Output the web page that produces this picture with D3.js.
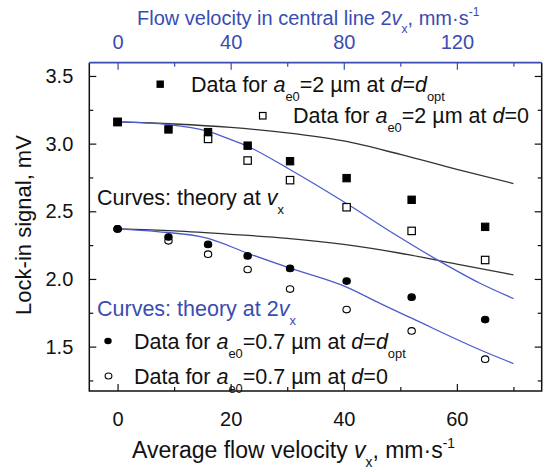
<!DOCTYPE html>
<html>
<head>
<meta charset="utf-8">
<script src="https://cdn.jsdelivr.net/npm/d3@7"></script>
<style>
  body { margin: 0; background: #fff; }
  svg text { font-family: "Liberation Sans", Arial, sans-serif; }
</style>
</head>
<body>
<div id="vis"></div>
<script>
// measured data (x = average flow velocity, mm/s ; y = lock-in signal, mV)
const sqFilled = [[0, 3.16], [9, 3.105], [16, 3.085], [23, 2.985], [30.5, 2.87], [40.5, 2.745], [52, 2.585], [65, 2.385]];
const sqOpen = [[0, 3.16], [16, 3.035], [23, 2.875], [30.5, 2.73], [40.5, 2.53], [52, 2.355], [65, 2.14]];
const dotFilled = [[0, 2.37], [9, 2.31], [16, 2.255], [23, 2.17], [30.5, 2.078], [40.5, 1.984], [52, 1.865], [65, 1.70]];
const dotOpen = [[0, 2.37], [9, 2.282], [16, 2.183], [23, 2.07], [30.5, 1.925], [40.5, 1.774], [52, 1.616], [65, 1.407]];

// theory curves
const theoryV_a2 = [[0, 3.16], [10, 3.145], [20, 3.12], [30, 3.08], [40, 3.02], [50, 2.92], [60, 2.81], [70, 2.705]];
const theory2V_a2 = [[0, 3.16], [9, 3.14], [16, 3.09], [20, 3.03], [23, 2.98], [30, 2.82], [40, 2.57], [49, 2.33], [57, 2.13], [64, 1.97], [70, 1.855]];
const theoryV_a07 = [[0, 2.37], [10, 2.355], [20, 2.33], [30, 2.30], [40, 2.255], [50, 2.19], [60, 2.11], [70, 2.03]];
const theory2V_a07 = [[0, 2.37], [7, 2.35], [16, 2.30], [23, 2.19], [30.5, 2.08], [40.5, 1.94], [46.4, 1.82], [52, 1.71], [65, 1.46], [70, 1.375]];

const xTicks = [0, 20, 40, 60];
const xMinor = [10, 30, 50, 70];
const topTicks = [0, 40, 80, 120];
const topMinor = [20, 60, 100, 140];
const yTicks = [1.5, 2.0, 2.5, 3.0, 3.5];
const yMinor = [1.25, 1.75, 2.25, 2.75, 3.25];

const blue = "#3a4cb2";

const svg = d3.select("#vis").append("svg")
    .attr("width", 551)
    .attr("height", 472);

const x = d3.scaleLinear().domain([-5, 75]).range([89.3, 541.7]);
const xTop = d3.scaleLinear().domain([-10, 150]).range([89.3, 541.7]);
const y = d3.scaleLinear().domain([1.172, 3.598]).range([391, 62.7]);

const pLeft = x.range()[0], pRight = x.range()[1];
const pTop = y.range()[1], pBottom = y.range()[0];

// axes (ticks pointing inwards)
function styleAxis(g, color) {
    g.select(".domain").remove();
    g.selectAll("line").attr("stroke", color).attr("stroke-width", 1.2);
    g.selectAll("text").attr("fill", color).style("font-size", "20px");
}

svg.append("g").attr("transform", `translate(0,${pBottom})`)
    .call(d3.axisBottom(x).tickValues(xTicks).tickSize(-7).tickPadding(21).tickFormat(d3.format("d")))
    .call(g => styleAxis(g, "#111"));
svg.append("g").attr("transform", `translate(0,${pBottom})`)
    .call(d3.axisBottom(x).tickValues(xMinor).tickSize(-4).tickFormat(""))
    .call(g => styleAxis(g, "#111"));

svg.append("g").attr("transform", `translate(0,${pTop})`)
    .call(d3.axisTop(xTop).tickValues(topTicks).tickSize(-7).tickPadding(14).tickFormat(d3.format("d")))
    .call(g => styleAxis(g, blue));
svg.append("g").attr("transform", `translate(0,${pTop})`)
    .call(d3.axisTop(xTop).tickValues(topMinor).tickSize(-4).tickFormat(""))
    .call(g => styleAxis(g, blue));

svg.append("g").attr("transform", `translate(${pLeft},0)`)
    .call(d3.axisLeft(y).tickValues(yTicks).tickSize(-7).tickPadding(16).tickFormat(d3.format(".1f")))
    .call(g => styleAxis(g, "#111"));
svg.append("g").attr("transform", `translate(${pLeft},0)`)
    .call(d3.axisLeft(y).tickValues(yMinor).tickSize(-4).tickFormat(""))
    .call(g => styleAxis(g, "#111"));

svg.append("g").attr("transform", `translate(${pRight},0)`)
    .call(d3.axisRight(y).tickValues(yTicks).tickSize(-7).tickFormat(""))
    .call(g => styleAxis(g, "#111"));
svg.append("g").attr("transform", `translate(${pRight},0)`)
    .call(d3.axisRight(y).tickValues(yMinor).tickSize(-4).tickFormat(""))
    .call(g => styleAxis(g, "#111"));

// frame
svg.append("path")
    .attr("d", `M${pLeft},${pTop}V${pBottom}H${pRight}V${pTop}`)
    .attr("fill", "none").attr("stroke", "#111").attr("stroke-width", 1.5);
svg.append("line")
    .attr("x1", pLeft).attr("x2", pRight).attr("y1", pTop).attr("y2", pTop)
    .attr("stroke", blue).attr("stroke-width", 1.8);

// curves
const line = d3.line().x(d => x(d[0])).y(d => y(d[1])).curve(d3.curveMonotoneX);
[[theoryV_a2, "#333"], [theoryV_a07, "#333"], [theory2V_a2, "#4a5ccc"], [theory2V_a07, "#4a5ccc"]]
    .forEach(([data, color]) => {
        svg.append("path").datum(data)
            .attr("d", line)
            .attr("fill", "none")
            .attr("stroke", color)
            .attr("stroke-width", 1.3);
    });

// markers
function squares(data, filled) {
    svg.append("g").selectAll("rect").data(data).enter().append("rect")
        .attr("x", d => x(d[0]) - 3.7).attr("y", d => y(d[1]) - 3.7)
        .attr("width", 7.4).attr("height", 7.4)
        .attr("fill", filled ? "#000" : "#fff")
        .attr("stroke", "#000").attr("stroke-width", filled ? 1 : 1.2);
}
function circles(data, filled) {
    svg.append("g").selectAll("ellipse").data(data).enter().append("ellipse")
        .attr("cx", d => x(d[0])).attr("cy", d => y(d[1]))
        .attr("rx", 3.7).attr("ry", 3.3)
        .attr("fill", filled ? "#000" : "#fff")
        .attr("stroke", "#000").attr("stroke-width", 1.1);
}
squares(sqOpen, false);
squares(sqFilled, true);
circles(dotOpen, false);
circles(dotFilled, true);

// rich text helper: parts = [text, style] ; style: "i" italic, "sub", "sup"
function richText(xp, yp, parts, size, color) {
    const t = svg.append("text").attr("x", xp).attr("y", yp)
        .style("font-size", size + "px").attr("fill", color);
    let shift = 0;
    parts.forEach(([s, st]) => {
        const sp = t.append("tspan").text(s);
        let target = 0;
        if (st === "sub") { target = size * 0.4; sp.style("font-size", (size * 0.6) + "px"); }
        if (st === "sup") { target = -size * 0.45; sp.style("font-size", (size * 0.6) + "px"); }
        if (st === "i") sp.style("font-style", "italic");
        if (target !== shift) { sp.attr("dy", target - shift); shift = target; }
    });
    return t;
}

// legend entries
const fs = 21.5;
svg.append("rect").attr("x", 156.5).attr("y", 80.5).attr("width", 7.4).attr("height", 7.4).attr("fill", "#000");
richText(191, 92, [["Data for "], ["a", "i"], ["e0", "sub"], ["=2 \u00b5m  at "], ["d", "i"], ["="], ["d", "i"], ["opt", "sub"]], fs, "#111");

svg.append("rect").attr("x", 259.5).attr("y", 112.5).attr("width", 6.5).attr("height", 6.5)
    .attr("fill", "#fff").attr("stroke", "#000").attr("stroke-width", 1.2);
richText(293, 123, [["Data for "], ["a", "i"], ["e0", "sub"], ["=2 \u00b5m  at "], ["d", "i"], ["=0"]], fs, "#111");

richText(97, 205, [["Curves: theory at "], ["v", "i"], ["x", "sub"]], fs, "#111");
richText(97, 316, [["Curves: theory at 2"], ["v", "i"], ["x", "sub"]], fs, blue);

svg.append("ellipse").attr("cx", 108).attr("cy", 341).attr("rx", 3.7).attr("ry", 3.3).attr("fill", "#000");
richText(134, 349, [["Data for "], ["a", "i"], ["e0", "sub"], ["=0.7 \u00b5m  at "], ["d", "i"], ["="], ["d", "i"], ["opt", "sub"]], fs, "#111");

svg.append("ellipse").attr("cx", 108.5).attr("cy", 376).attr("rx", 3.4).attr("ry", 3)
    .attr("fill", "#fff").attr("stroke", "#000").attr("stroke-width", 1.1);
richText(134, 384, [["Data for "], ["a", "i"], ["e0", "sub"], ["=0.7 \u00b5m  at "], ["d", "i"], ["=0"]], fs, "#111");

// axis titles
richText(132, 458, [["Average flow velocity "], ["v", "i"], ["x", "sub"], [", mm\u00b7s"], ["-1", "sup"]], 23, "#111");
richText(137, 25, [["Flow velocity in central line 2"], ["v", "i"], ["x", "sub"], [", mm\u00b7s"], ["-1", "sup"]], 20, blue);

svg.append("text")
    .attr("transform", "translate(31,225) rotate(-90)")
    .attr("text-anchor", "middle")
    .style("font-size", "22px")
    .attr("fill", "#111")
    .text("Lock-in signal, mV");
</script>
</body>
</html>
